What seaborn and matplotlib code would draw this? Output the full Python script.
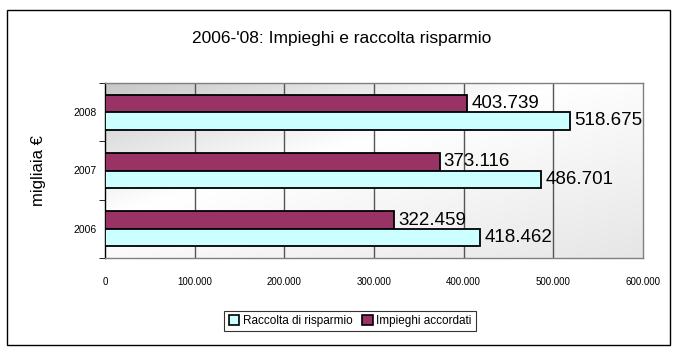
import numpy as np
import pandas as pd
import matplotlib
matplotlib.use("Agg")
import matplotlib.pyplot as plt
import seaborn as sns
from matplotlib.patches import Rectangle, Patch
from matplotlib.ticker import FixedLocator

years = ["2008", "2007", "2006"]
raccolta = [518675, 486701, 418462]
impieghi = [403739, 373116, 322459]
raccolta_labels = ["518.675", "486.701", "418.462"]
impieghi_labels = ["403.739", "373.116", "322.459"]
xticks = [0, 100000, 200000, 300000, 400000, 500000, 600000]
xtick_labels = ["0", "100.000", "200.000", "300.000", "400.000", "500.000", "600.000"]
series_names = ["Raccolta di risparmio", "Impieghi accordati"]

df = pd.DataFrame({
    "anno": years * 2,
    "valore": raccolta + impieghi,
    "serie": [series_names[0]] * 3 + [series_names[1]] * 3,
})

sns.set_style("white")
plt.rcParams["font.family"] = ["Liberation Sans", "DejaVu Sans"]
plt.rcParams["text.color"] = "black"
plt.rcParams["axes.labelcolor"] = "black"
plt.rcParams["xtick.color"] = "black"
plt.rcParams["ytick.color"] = "black"

fig = plt.figure(figsize=(6.84, 3.51), dpi=100)
ax = fig.add_axes([105 / 684, 1 - 258 / 351, 538 / 684, 175 / 351])

# gradient background
ny, nx = 100, 200
yy, xx = np.mgrid[0:1:ny * 1j, 0:1:nx * 1j]
d = (xx * 0.9 + yy * 1.0) / 1.9
g = np.where(d < 0.4, 0.78 + (d / 0.4) * 0.22, 1.0 - (d - 0.4) / 0.6 * 0.1)
ax.imshow(g, cmap="gray", vmin=0, vmax=1, extent=[0, 1, 0, 1], origin="upper",
          transform=ax.transAxes, aspect="auto", zorder=0, interpolation="bicubic")

colors = {series_names[0]: "#CCFFFF", series_names[1]: "#993366"}
sns.barplot(data=df, y="anno", x="valore", hue="serie", order=years,
            hue_order=[series_names[1], series_names[0]], palette=colors,
            orient="h", width=0.6, edgecolor="black", linewidth=1.3, saturation=1,
            ax=ax, zorder=3, legend=False)

ax.set_xlim(0, 600000)
ax.set_ylim(2.5, -0.5)
for x in xticks[1:-1]:
    ax.axvline(x, color="#555555", lw=1, zorder=1)

# labels
for cont, labs in zip(ax.containers, [impieghi_labels, raccolta_labels]):
    ax.bar_label(cont, labels=labs, padding=3, fontsize=13.5, color="black")

ax.set_xticks(xticks)
ax.set_xticklabels(xtick_labels, fontsize=7)
ax.tick_params(axis="y", labelsize=7.5, length=0, pad=6)
ax.yaxis.set_minor_locator(FixedLocator([-0.5, 0.5, 1.5, 2.5]))
ax.tick_params(axis="y", which="minor", length=4, color="black", direction="out", left=True)
ax.tick_params(axis="x", length=0, pad=14)
ax.set_xlabel("")
ax.set_ylabel("migliaia €", fontsize=12, labelpad=20)

for s in ["top", "right", "bottom"]:
    ax.spines[s].set_color("#808080")
    ax.spines[s].set_linewidth(1)
ax.spines["left"].set_color("black")
ax.spines["left"].set_linewidth(1)

fig.text(0.5, 1 - 38 / 351, "2006-'08: Impieghi e raccolta risparmio", ha="center", va="center", fontsize=12.5)

handles = [Patch(facecolor=colors[n], edgecolor="black", linewidth=1.2) for n in series_names]
leg = fig.legend(handles, series_names, loc="center", bbox_to_anchor=(350 / 684, 1 - 321 / 351),
                 ncol=2, fontsize=8.5, frameon=True, fancybox=False, handlelength=0.9, handleheight=0.9,
                 handletextpad=0.3, columnspacing=0.8, borderpad=0.35)
leg.get_frame().set_edgecolor("black")
leg.get_frame().set_linewidth(0.8)

fig.patches.append(Rectangle((7 / 684, 1 - 345 / 351), 663 / 684, 335 / 351, transform=fig.transFigure,
                             fill=False, edgecolor="black", linewidth=1))

fig.savefig("out.png", dpi=100)
